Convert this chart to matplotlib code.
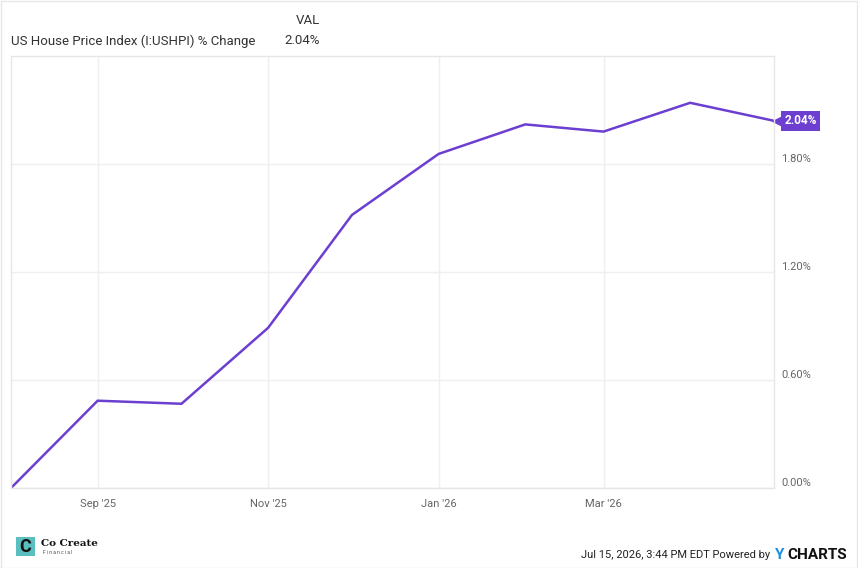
import matplotlib
matplotlib.use("Agg")
import matplotlib.pyplot as plt
import matplotlib.dates as mdates
import matplotlib.transforms as mtransforms
from matplotlib.patches import Rectangle
import pandas as pd

plt.rcParams["font.family"] = ["Roboto", "DejaVu Sans"]

months = ["2025-08-01", "2025-09-01", "2025-10-01", "2025-11-01", "2025-12-01",
          "2026-01-01", "2026-02-01", "2026-03-01", "2026-04-01", "2026-05-01"]
pct_change = [0.00, 0.485, 0.468, 0.89, 1.517, 1.856, 2.02, 1.98, 2.14, 2.04]
y_ticks = [0.0, 0.6, 1.2, 1.8]
x_ticks = ["2025-09-01", "2025-11-01", "2026-01-01", "2026-03-01"]
series_name = "US House Price Index (I:USHPI) % Change"
footer = "Jul 15, 2026, 3:44 PM EDT Powered by"

purple = "#6c3fd1"
grid_c = "#efefef"
text_c = "#333333"
tick_c = "#666666"

dates = pd.to_datetime(months)
W, H = 858, 568
fig = plt.figure(figsize=(W / 100, H / 100), dpi=100)
ax = fig.add_axes([11 / W, (H - 488) / H, (774 - 11) / W, (488 - 56) / H])

ax.plot(dates, pct_change, color=purple, lw=1.8, solid_joinstyle="miter")
ax.set_xlim(dates[0], dates[-1])
ax.set_ylim(0, 2.4)

ax.set_yticks(y_ticks)
ax.set_yticklabels([f"{v:.2f}%" for v in y_ticks])
ax.yaxis.tick_right()
ax.set_xticks(pd.to_datetime(x_ticks))
ax.xaxis.set_major_formatter(mdates.DateFormatter("%b '%y"))
ax.tick_params(axis="both", length=0, labelsize=8, colors=tick_c)
ax.tick_params(axis="y", pad=5)
ax.tick_params(axis="x", pad=8)
for lab in ax.get_yticklabels():
    lab.set_va("bottom")

ax.grid(True, color=grid_c, lw=1)
ax.set_axisbelow(True)
for s in ax.spines.values():
    s.set_color("#e6e6e6")
    s.set_linewidth(1)

# end-of-line value tag
last = pct_change[-1]
tip = mtransforms.offset_copy(ax.transData, fig=fig, x=4, y=0, units="dots")
ax.plot([dates[-1]], [last], marker="<", ms=10, color=purple, mec="none",
        transform=tip, clip_on=False)
ax.annotate(f"{last:.2f}%", xy=(dates[-1], last), xytext=(7.5, 0),
            textcoords="offset points", ha="left", va="center",
            color="white", fontsize=8.5, fontweight="bold",
            bbox=dict(boxstyle="square,pad=0.3", fc=purple, ec="none"),
            annotation_clip=False)

# header
fig.text(11 / W, 1 - 41 / H, series_name, fontsize=9.5, color=text_c, va="center")
fig.text(320 / W, 1 - 21 / H, "VAL", fontsize=9.5, color=text_c, va="center", ha="right")
fig.text(320 / W, 1 - 41 / H, f"{last:.2f}%", fontsize=9.5, color=text_c,
         va="center", ha="right")

# footer
fig.text(770 / W, 1 - 555 / H, footer, fontsize=8, color="#222222",
         va="center", ha="right")
fig.text(775 / W, 1 - 555 / H, "Y", fontsize=11, color="#1a8fe0",
         fontweight="bold", va="center", ha="left")
fig.text(787 / W, 1 - 555 / H, "CHARTS", fontsize=11, color="#111111",
         fontweight="bold", va="center", ha="left")

# logo
fig.patches.append(Rectangle((16 / W, 1 - 556 / H), 19 / W, 19 / H,
                             transform=fig.transFigure, fc="#5bbfbf", ec="none"))
fig.text(25.5 / W, 1 - 546.5 / H, "C", fontsize=13, color="#111111",
         fontweight="bold", ha="center", va="center")
fig.text(41 / W, 1 - 544 / H, "Co Create", fontsize=7.5, color="#111111",
         family="DejaVu Serif", fontweight="bold", va="center")
fig.text(43 / W, 1 - 552 / H, "F i n a n c i a l", fontsize=3.5, color="#444444",
         va="center")

# outer frame
fig.patches.append(Rectangle((0.5 / W, 0.5 / H), 1 - 1.5 / W, 1 - 1.5 / H,
                             transform=fig.transFigure, fill=False,
                             ec="#e6e6e6", lw=1))

fig.savefig("out.png", dpi=100)
plt.close(fig)
